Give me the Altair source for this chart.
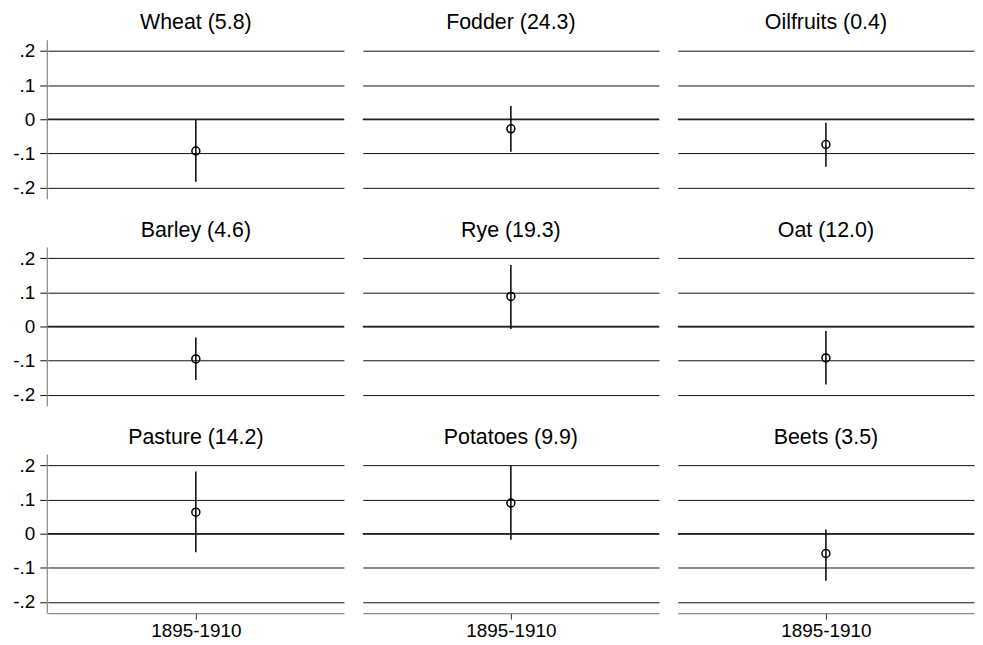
import altair as alt
import pandas as pd

crops = ["Wheat (5.8)", "Fodder (24.3)", "Oilfruits (0.4)",
         "Barley (4.6)", "Rye (19.3)", "Oat (12.0)",
         "Pasture (14.2)", "Potatoes (9.9)", "Beets (3.5)"]
period = ["1895-1910"] * 9
estimate = [-0.093, -0.028, -0.074, -0.095, 0.088, -0.092, 0.063, 0.090, -0.058]
lower = [-0.183, -0.095, -0.139, -0.157, -0.007, -0.170, -0.054, -0.018, -0.138]
upper = [-0.002, 0.039, -0.010, -0.032, 0.180, -0.013, 0.182, 0.199, 0.012]
y_ticks = [-0.2, -0.1, 0, 0.1, 0.2]

df = pd.DataFrame({"crop": crops, "period": period, "est": estimate,
                   "lo": lower, "hi": upper})

FONT = "Liberation Sans"
W = 298
H = 160

x = alt.X("period:N", title=None,
          scale=alt.Scale(type="point", padding=0.5),
          axis=alt.Axis(labelAngle=0, grid=False, domainColor="#6e6e6e",
                        tickColor="#333333", tickSize=6, labelFontSize=19,
                        labelPadding=2, labelColor="black", labelFont=FONT))
yscale = alt.Scale(domain=[-0.233, 0.233], nice=False, zero=False)
yaxis = alt.Axis(values=y_ticks, tickCount=10, grid=True, gridColor="#111111",
                 gridWidth=1, domainColor="#6e6e6e", tickColor="#111111",
                 tickSize=7, labelFontSize=19, labelPadding=5,
                 labelColor="black", labelFont=FONT, labelOverlap=False,
                 labelBound=False,
                 labelExpr="datum.value == 0 ? '0' : (datum.value < 0 ? '-' : '') + replace(format(abs(datum.value), '.1f'), '0.', '.')")

base = alt.Chart(df)
rule = base.mark_rule(color="black", strokeWidth=1.5).encode(
    x=x,
    y=alt.Y("lo:Q", title=None, scale=yscale, axis=yaxis),
    y2="hi:Q")
zero = base.mark_rule(color="#222222", strokeWidth=1.6).encode(
    y=alt.datum(0), x=alt.value(0), x2=alt.value(W))
point = base.mark_point(shape="circle", filled=False, size=64, color="black",
                        strokeWidth=1.5, opacity=1).encode(
    x=x, y=alt.Y("est:Q", scale=yscale))

chart = alt.layer(zero, rule, point).properties(width=W, height=H).facet(
    facet=alt.Facet("crop:N", sort=crops, title=None,
                    header=alt.Header(labelFontSize=21.5, labelFont=FONT,
                                      labelColor="black", labelPadding=6)),
    columns=3, spacing={"row": 20.5, "column": 17}
).configure(font=FONT, padding={"left": 4, "top": 2, "right": 0, "bottom": 0}
).configure_view(stroke=None)

chart.save("out.html", embed_options={"renderer": "svg", "actions": False})
